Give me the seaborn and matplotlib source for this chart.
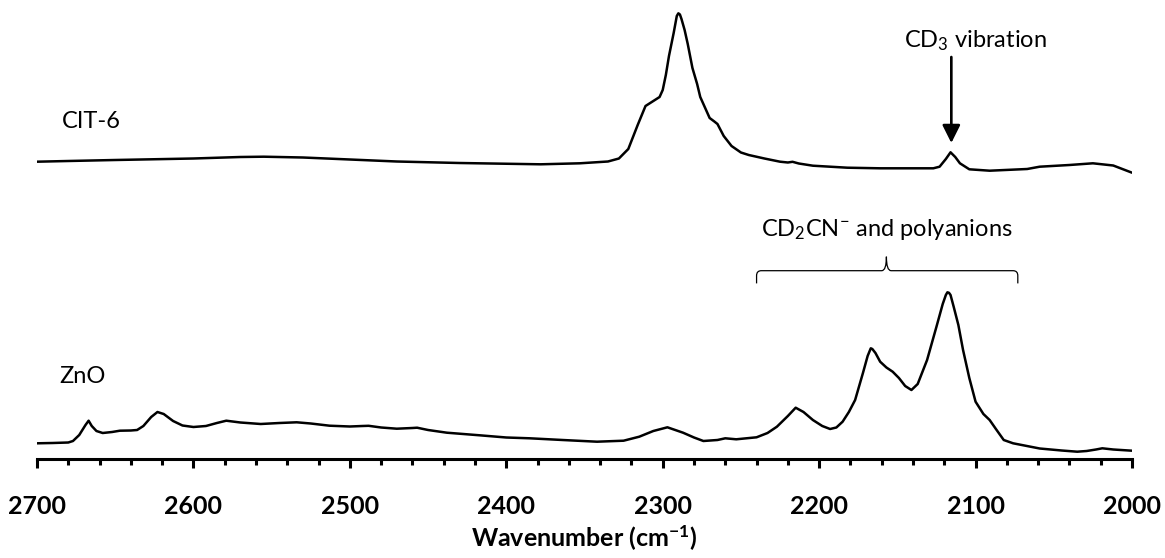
import matplotlib
matplotlib.use("Agg")
import matplotlib.pyplot as plt
import pandas as pd
import seaborn as sns
from matplotlib.path import Path
from matplotlib.patches import PathPatch
from matplotlib.ticker import MultipleLocator

# ---------------- data (arbitrary absorbance units, offset included)
cit6_wavenumber = [2700, 2680, 2650, 2600, 2570, 2555, 2530, 2500, 2470, 2430, 2378, 2353, 2340,
                   2335, 2328, 2322, 2316, 2311, 2307, 2302, 2300, 2298, 2296, 2293, 2291, 2290,
                   2289, 2288, 2286, 2284, 2281, 2278, 2276, 2270, 2267, 2265, 2261, 2256, 2250,
                   2245, 2235, 2225, 2220, 2217, 2213, 2204, 2182, 2161, 2140, 2127, 2123, 2119,
                   2116, 2113, 2110, 2104, 2091, 2067, 2059, 2040, 2025, 2012, 2000]
cit6_absorbance = [2.973, 2.980, 2.990, 3.005, 3.020, 3.023, 3.015, 2.995, 2.975, 2.960, 2.947,
                   2.957, 2.970, 2.975, 3.005, 3.100, 3.340, 3.530, 3.570, 3.620, 3.690, 3.840,
                   4.030, 4.260, 4.430, 4.457, 4.445, 4.400, 4.290, 4.150, 3.910, 3.750, 3.620,
                   3.410, 3.375, 3.350, 3.230, 3.130, 3.065, 3.040, 3.005, 2.973, 2.965, 2.972,
                   2.955, 2.933, 2.913, 2.907, 2.907, 2.907, 2.923, 3.000, 3.067, 3.020, 2.957,
                   2.897, 2.883, 2.900, 2.923, 2.940, 2.957, 2.935, 2.863]

zno_wavenumber = [2700, 2690, 2680, 2677, 2673, 2669, 2667, 2665, 2662, 2658, 2652, 2647, 2640,
                  2636, 2632, 2627, 2623, 2619, 2613, 2607, 2600, 2592, 2585, 2579, 2570, 2557,
                  2545, 2534, 2525, 2513, 2500, 2492, 2488, 2480, 2470, 2460, 2457, 2450, 2438,
                  2417, 2400, 2385, 2364, 2342, 2325, 2315, 2306, 2297, 2287, 2280, 2274, 2265,
                  2260, 2253, 2240, 2233, 2227, 2220, 2215, 2210, 2204, 2198, 2193, 2189, 2185,
                  2181, 2177, 2172, 2169, 2167, 2166, 2164, 2161, 2157, 2153, 2149, 2145, 2141,
                  2137, 2131, 2125, 2121, 2119, 2118, 2117, 2116, 2114, 2111, 2108, 2104, 2100,
                  2095, 2091, 2087, 2082, 2076, 2059, 2045, 2035, 2029, 2023, 2019, 2012, 2000]
zno_absorbance = [0.157, 0.160, 0.165, 0.180, 0.240, 0.340, 0.383, 0.330, 0.280, 0.260, 0.270,
                  0.283, 0.285, 0.290, 0.330, 0.420, 0.470, 0.450, 0.380, 0.335, 0.320, 0.330,
                  0.360, 0.383, 0.365, 0.350, 0.360, 0.367, 0.355, 0.333, 0.325, 0.330, 0.332,
                  0.315, 0.303, 0.310, 0.313, 0.290, 0.263, 0.237, 0.215, 0.207, 0.190, 0.173,
                  0.183, 0.223, 0.280, 0.317, 0.263, 0.215, 0.180, 0.190, 0.207, 0.197, 0.217,
                  0.260, 0.323, 0.430, 0.513, 0.470, 0.390, 0.330, 0.300, 0.315, 0.373, 0.470,
                  0.590, 0.860, 1.030, 1.107, 1.100, 1.060, 0.973, 0.915, 0.873, 0.810, 0.730,
                  0.690, 0.750, 0.990, 1.323, 1.550, 1.640, 1.667, 1.662, 1.640, 1.523, 1.340,
                  1.090, 0.810, 0.573, 0.450, 0.390, 0.300, 0.190, 0.157, 0.105, 0.085, 0.073,
                  0.080, 0.095, 0.107, 0.095, 0.083]

series_names = ["CIT-6", "ZnO"]
x_ticks = [2700, 2600, 2500, 2400, 2300, 2200, 2100, 2000]
x_label = "Wavenumber (cm$^{\\mathbf{-1}}$)"

# annotations
cd3_label = "CD$_3$ vibration"
cd3_peak = 2115.5
brace_label = "CD$_2$CN$^{-}$ and polyanions"
brace_left, brace_mid, brace_right = 2240, 2157, 2073

# ---------------- style
sns.set_theme(style="white")
plt.rcParams["font.family"] = ["Lato", "DejaVu Sans"]
plt.rcParams["mathtext.fontset"] = "custom"
plt.rcParams["mathtext.rm"] = "Lato"
plt.rcParams["mathtext.it"] = "Lato:italic"
plt.rcParams["mathtext.bf"] = "Lato:bold"
for key in ["text.color", "axes.labelcolor", "xtick.color", "ytick.color", "axes.edgecolor"]:
    plt.rcParams[key] = "black"

W, H = 1165, 558
fig = plt.figure(figsize=(W / 100, H / 100), dpi=100)
ax = fig.add_axes([37 / W, 99 / H, 1095 / W, 459 / H])

df = pd.concat([
    pd.DataFrame({"wavenumber": cit6_wavenumber, "absorbance": cit6_absorbance, "sample": series_names[0]}),
    pd.DataFrame({"wavenumber": zno_wavenumber, "absorbance": zno_absorbance, "sample": series_names[1]}),
])
sns.lineplot(data=df, x="wavenumber", y="absorbance", units="sample", estimator=None,
             color="black", lw=1.8, ax=ax, legend=False)

ax.set_xlim(2700, 2000)
ax.set_ylim(0, 4.59)

for s in ["left", "top", "right"]:
    ax.spines[s].set_visible(False)
ax.spines["bottom"].set_linewidth(2.2)
ax.spines["bottom"].set_color("black")
ax.set_yticks([])
ax.set_ylabel("")

ax.set_xticks(x_ticks)
ax.set_xticklabels([str(t) for t in x_ticks], fontweight="bold")
ax.xaxis.set_minor_locator(MultipleLocator(20))
ax.tick_params(axis="x", which="major", direction="out", length=6.5, width=2.2,
               pad=19.5, labelsize=18, bottom=True)
ax.tick_params(axis="x", which="minor", direction="out", length=4.3, width=2.2, bottom=True)
ax.set_xlabel(x_label, fontweight="bold", fontsize=18, labelpad=4)

# sample labels
ax.text(2684, 3.31, series_names[0], ha="left", va="baseline", fontsize=17)
ax.text(2686, 0.76, series_names[1], ha="left", va="baseline", fontsize=17)

# CD3 arrow
ax.annotate("", xy=(cd3_peak, 3.16), xytext=(cd3_peak, 4.02),
            arrowprops=dict(arrowstyle="-|>,head_length=0.54,head_width=0.27", color="black",
                            lw=1.9, shrinkA=0, shrinkB=0, mutation_scale=20))
ax.text(2100, 4.12, cd3_label, ha="center", va="baseline", fontsize=17)

# brace
Y, drop, tip, rx, ry = 1.883, 0.127, 0.14, 3.0, 0.05
verts = [(brace_left, Y - drop), (brace_left, Y - ry), (brace_left, Y), (brace_left - rx, Y),
         (brace_mid + rx, Y), (brace_mid, Y), (brace_mid, Y + tip), (brace_mid, Y), (brace_mid - rx, Y),
         (brace_right + rx, Y), (brace_right, Y), (brace_right, Y - ry), (brace_right, Y - drop)]
codes = [Path.MOVETO, Path.LINETO, Path.CURVE3, Path.CURVE3,
         Path.LINETO, Path.CURVE3, Path.CURVE3, Path.CURVE3, Path.CURVE3,
         Path.LINETO, Path.CURVE3, Path.CURVE3, Path.LINETO]
ax.add_patch(PathPatch(Path(verts, codes), facecolor="none", edgecolor="black", lw=0.9))
ax.text(brace_mid, 2.23, brace_label, ha="center", va="baseline", fontsize=17)

fig.savefig("out.png", dpi=100)
